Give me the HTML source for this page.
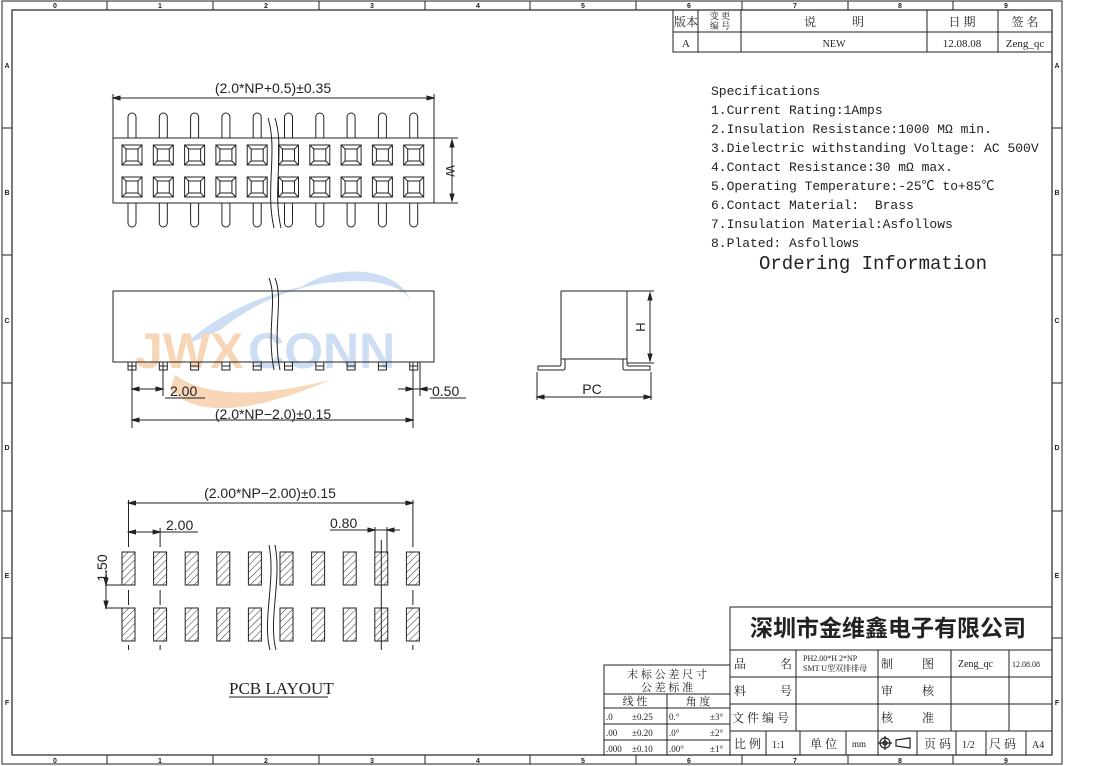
<!DOCTYPE html>
<html><head><meta charset="utf-8"><style>
html,body{margin:0;padding:0;background:#fff;}
svg{display:block;}
text{font-family:"Liberation Sans","Noto Sans CJK SC",sans-serif;fill:#222;white-space:pre;}
.s{font-family:"Liberation Serif","Noto Serif CJK SC","Noto Sans CJK SC",serif;}
.m{font-family:"Liberation Mono","Noto Sans CJK SC",monospace;}
</style></head><body>
<svg width="1100" height="766" viewBox="0 0 1100 766" xmlns="http://www.w3.org/2000/svg" xml:space="preserve">
<defs>
<pattern id="h" width="5" height="5" patternUnits="userSpaceOnUse" patternTransform="rotate(45)"><line x1="0" y1="0" x2="0" y2="5" stroke="#333" stroke-width="1"/></pattern>
<g id="tp" fill="none" stroke="#222" stroke-width="1">
<path d="M-4,138 V117 A4,4 0 0 1 4,117 V138"/>
<path d="M-4,203 V223 A4,4 0 0 0 4,223 V203"/>
<rect x="-10" y="145" width="20" height="20"/><rect x="-6" y="149" width="12" height="12"/>
<path d="M-10,145 L-6,149 M10,145 L6,149 M-10,165 L-6,161 M10,165 L6,161"/>
<rect x="-10" y="177" width="20" height="20"/><rect x="-6" y="181" width="12" height="12"/>
<path d="M-10,177 L-6,181 M10,177 L6,181 M-10,197 L-6,193 M10,197 L6,193"/>
</g>
<g id="sp" fill="none" stroke="#222" stroke-width="1"><rect x="-4" y="362" width="8" height="8"/><line x1="-4" y1="366" x2="4" y2="366"/></g>
<g id="pd" stroke="#222" stroke-width="1"><rect x="-6.5" y="552" width="13" height="33" fill="url(#h)"/><rect x="-6.5" y="608" width="13" height="33" fill="url(#h)"/></g>
</defs>
<rect width="1100" height="766" fill="#fff"/>
<rect x="2" y="1" width="1060" height="763" fill="none" stroke="#222" stroke-width="1"/>
<rect x="12" y="10" width="1040" height="745" fill="none" stroke="#222" stroke-width="1.2"/>
<g stroke="#222" stroke-width="1">
<path d="M107,1V10M213,1V10M319,1V10M425,1V10M530,1V10M636,1V10M742,1V10M848,1V10M953,1V10"/>
<path d="M107,755V764M213,755V764M319,755V764M425,755V764M530,755V764M636,755V764M742,755V764M848,755V764M953,755V764"/>
<path d="M2,128H12M2,255H12M2,383H12M2,511H12M2,638H12M1052,128H1062M1052,255H1062M1052,383H1062M1052,511H1062M1052,638H1062"/>
</g>
<g font-size="7" font-weight="bold" text-anchor="middle">
<text x="55" y="8">0</text><text x="160" y="8">1</text><text x="266" y="8">2</text><text x="372" y="8">3</text><text x="478" y="8">4</text><text x="583" y="8">5</text><text x="689" y="8">6</text><text x="795" y="8">7</text><text x="900" y="8">8</text><text x="1006" y="8">9</text>
<text x="55" y="763">0</text><text x="160" y="763">1</text><text x="266" y="763">2</text><text x="372" y="763">3</text><text x="478" y="763">4</text><text x="583" y="763">5</text><text x="689" y="763">6</text><text x="795" y="763">7</text><text x="900" y="763">8</text><text x="1006" y="763">9</text>
<text x="7" y="68">A</text><text x="7" y="195">B</text><text x="7" y="323">C</text><text x="7" y="450">D</text><text x="7" y="578">E</text><text x="7" y="705">F</text>
<text x="1057" y="68">A</text><text x="1057" y="195">B</text><text x="1057" y="323">C</text><text x="1057" y="450">D</text><text x="1057" y="578">E</text><text x="1057" y="705">F</text>
</g>
<g opacity="0.7">
<path d="M185,345 C230,300 320,270 400,285 C340,270 270,290 220,330Z" fill="#b9cfee"/>
<path d="M300,288 C340,260 400,270 410,300 C400,280 350,275 300,288Z" fill="#b9cfee"/>
<path d="M170,390 C200,420 260,410 330,380 C270,395 210,400 175,375Z" fill="#f5c59a"/>
<text x="135" y="368" font-size="50" font-weight="bold" style="fill:#f5c59a">JWX</text>
<text x="248" y="368" font-size="50" font-weight="bold" style="fill:#b9cfee">CONN</text>
</g>
<g fill="none" stroke="#222" stroke-width="1">
<rect x="673" y="10" width="379" height="42"/>
<path d="M673,32H1052M698,10V52M741,10V52M927,10V52M998,10V52"/>
</g>
<g font-size="12" class="s" text-anchor="middle">
<text x="686" y="26" class="s">版本</text>
<text x="720" y="19" font-size="9" class="s">变 更</text><text x="720" y="29" font-size="9" class="s">编 号</text>
<text x="834" y="26" class="s">说　　　明</text>
<text x="962" y="26" class="s">日 期</text><text x="1025" y="26" class="s">签 名</text>
<text x="686" y="47" font-size="11" class="s">A</text>
<text x="834" y="47" font-size="10" class="s">NEW</text>
<text x="962" y="47" font-size="11" class="s">12.08.08</text>
<text x="1025" y="47" font-size="11" class="s">Zeng_qc</text>
</g>
<g font-size="13" class="m">
<text x="711" y="95" class="m">Specifications</text>
<text x="711" y="114" class="m">1.Current Rating:1Amps</text>
<text x="711" y="133" class="m">2.Insulation Resistance:1000 MΩ min.</text>
<text x="711" y="152" class="m">3.Dielectric withstanding Voltage: AC 500V</text>
<text x="711" y="171" class="m">4.Contact Resistance:30 mΩ max.</text>
<text x="711" y="190" class="m">5.Operating Temperature:-25℃ to+85℃</text>
<text x="711" y="209" class="m">6.Contact Material:  Brass</text>
<text x="711" y="228" class="m">7.Insulation Material:Asfollows</text>
<text x="711" y="247" class="m">8.Plated: Asfollows</text>
<text x="759" y="269" font-size="19" class="m">Ordering Information</text>
</g>
<g fill="none" stroke="#222" stroke-width="1">
<rect x="113" y="138" width="321" height="65" fill="#fff"/>
<path d="M113,94V138M434,94V138M113,98H434M434,138H458M434,203H458M452,140V201"/>
<path d="M113,98l7,-2v4zM434,98l-7,-2v4z" fill="#222"/>
<path d="M452,140l-2,7h4zM452,201l-2,-7h4z" fill="#222"/>
</g>
<use href="#tp" x="132"/><use href="#tp" x="163.3"/><use href="#tp" x="194.6"/><use href="#tp" x="225.9"/><use href="#tp" x="257.2"/><use href="#tp" x="288.5"/><use href="#tp" x="319.8"/><use href="#tp" x="351.1"/><use href="#tp" x="382.4"/><use href="#tp" x="413.7"/>
<path d="M268,118 C278,150 265,190 274,228 M275,118 C285,150 272,190 281,228" fill="none" stroke="#222"/>
<text x="273" y="93" font-size="14" text-anchor="middle">(2.0*NP+0.5)±0.35</text>
<text x="0" y="0" font-size="12" transform="translate(446,171) rotate(90)" text-anchor="middle">W</text>
<g fill="none" stroke="#222" stroke-width="1">
<rect x="113" y="291" width="321" height="71"/>
<path d="M269,278 C278,300 266,330 274,370 M275,278 C284,300 272,330 280,370"/>
<path d="M132,362V428M163,362V396M413,362V428M420,362V396"/>
<path d="M132,389H163M132,420H413M398,389H420M420,389H432"/>
<path d="M132,389l7,-2v4zM163,389l-7,-2v4zM132,420l7,-2v4zM413,420l-7,-2v4zM413,389l-7,-2v4zM420,389l7,-2v4z" fill="#222"/>
<path d="M165,398H205M430,398H466"/>
</g>
<use href="#sp" x="132"/><use href="#sp" x="163.3"/><use href="#sp" x="194.6"/><use href="#sp" x="225.9"/><use href="#sp" x="257.2"/><use href="#sp" x="288.5"/><use href="#sp" x="319.8"/><use href="#sp" x="351.1"/><use href="#sp" x="382.4"/><use href="#sp" x="413.7"/>
<text x="170" y="396" font-size="14">2.00</text>
<text x="432" y="396" font-size="14">0.50</text>
<text x="273" y="419" font-size="14" text-anchor="middle">(2.0*NP−2.0)±0.15</text>
<g fill="none" stroke="#222" stroke-width="1">
<path d="M561,291H627V359M561,291V359"/>
<path d="M561,359H565V368Q565,370 563,370H538V366H559Q561,366 561,364Z"/>
<path d="M627,359H623V368Q623,370 625,370H650V366H629Q627,366 627,364Z"/>
<path d="M565,359H623"/>
<path d="M627,291H654M627,363H654M650,293V361M537,372V400M651,372V400M537,397H651"/>
<path d="M650,293l-2,7h4zM650,361l-2,-7h4zM537,397l7,-2v4zM651,397l-7,-2v4z" fill="#222"/>
</g>
<text x="0" y="0" font-size="13" transform="translate(636,327) rotate(90)" text-anchor="middle">H</text>
<text x="592" y="394" font-size="14" text-anchor="middle">PC</text>
<use href="#pd" x="128.5"/><use href="#pd" x="160.1"/><use href="#pd" x="191.7"/><use href="#pd" x="223.3"/><use href="#pd" x="254.9"/><use href="#pd" x="286.5"/><use href="#pd" x="318.1"/><use href="#pd" x="349.7"/><use href="#pd" x="381.3"/><use href="#pd" x="412.9"/>
<g fill="none" stroke="#222" stroke-width="1">
<path d="M269,545 C276,580 262,620 270,650 M275,545 C282,580 268,620 276,650"/>
<path d="M128.5,500V547M160.1,528V547M412.9,500V547M128.5,590V605M160.1,590V605M381.3,540V650M412.9,590V605M128.5,645V650M160.1,645V650M412.9,645V650"/>
<path d="M128.5,503H412.9M128.5,532H160.1M160.1,532H198M330,530H400M375,527V553M387,527V553"/>
<path d="M128.5,503l7,-2v4zM412.9,503l-7,-2v4zM128.5,532l7,-2v4zM160.1,532l-7,-2v4zM375,530l-7,-2v4zM387,530l7,-2v4z" fill="#222"/>
<path d="M105,585H122M105,608H122M106,570V608"/>
<path d="M106,585l-2,-7h4zM106,608l-2,-7h4z" fill="#222"/>
<path d="M229,697H328"/>
</g>
<text x="270" y="498" font-size="14" text-anchor="middle">(2.00*NP−2.00)±0.15</text>
<text x="166" y="530" font-size="14">2.00</text>
<text x="330" y="528" font-size="14">0.80</text>
<text x="0" y="0" font-size="14" transform="translate(107,568) rotate(-90)" text-anchor="middle">1.50</text>
<text x="229" y="694" font-size="17" class="s">PCB LAYOUT</text>
<g fill="none" stroke="#222" stroke-width="1">
<rect x="730" y="607" width="322" height="148"/>
<path d="M730,650H1052M730,677H1052M730,704H1052M730,731H1052"/>
<path d="M796,650V731M878,650V755M951,650V731M1009,650V731"/>
<path d="M766,731V755M800,731V755M846,731V755M917,731V755M956,731V755M986,731V755M1026,731V755"/>
<rect x="604" y="665" width="126" height="90"/>
<path d="M604,694H730M604,708H730M604,724H730M604,740H730M667,694V755"/>
</g>
<text x="888" y="636" font-size="23" font-weight="bold" text-anchor="middle">深圳市金维鑫电子有限公司</text>
<g font-size="12" class="s">
<text x="734" y="668" class="s">品</text><text x="780" y="668" class="s">名</text>
<text x="803" y="661" font-size="8" class="s">PH2.00*H 2*NP</text>
<text x="803" y="671" font-size="8" class="s">SMT U型双排排母</text>
<text x="881" y="668" class="s">制</text><text x="922" y="668" class="s">图</text>
<text x="958" y="667" font-size="10" class="s">Zeng_qc</text>
<text x="1012" y="667" font-size="8" class="s">12.08.08</text>
<text x="734" y="695" class="s">料</text><text x="780" y="695" class="s">号</text>
<text x="881" y="695" class="s">审</text><text x="922" y="695" class="s">核</text>
<text x="732" y="722" class="s">文 件 编 号</text>
<text x="881" y="722" class="s">核</text><text x="922" y="722" class="s">准</text>
<text x="734" y="748" class="s">比 例</text><text x="772" y="748" font-size="10" class="s">1:1</text>
<text x="810" y="748" class="s">单 位</text><text x="852" y="747" font-size="9" class="s">mm</text>
<text x="924" y="748" class="s">页 码</text><text x="962" y="748" font-size="10" class="s">1/2</text>
<text x="989" y="748" class="s">尺 码</text><text x="1032" y="748" font-size="10" class="s">A4</text>
</g>
<g fill="none" stroke="#222" stroke-width="1.2">
<circle cx="885" cy="743" r="5"/><circle cx="885" cy="743" r="2"/><path d="M878,743H892M885,736V750M896,740L910,738V748L896,746Z"/>
</g>
<g font-size="11" class="s">
<text x="667" y="678" text-anchor="middle" class="s">末 标 公 差 尺 寸</text>
<text x="667" y="691" text-anchor="middle" class="s">公 差 标 准</text>
<text x="635" y="705" text-anchor="middle" class="s">线 性</text>
<text x="698" y="705" text-anchor="middle" class="s">角 度</text>
<text x="606" y="720" font-size="9" class="s">.0</text><text x="632" y="720" font-size="9" class="s">±0.25</text>
<text x="669" y="720" font-size="9" class="s">0.°</text><text x="710" y="720" font-size="9" class="s">±3°</text>
<text x="606" y="736" font-size="9" class="s">.00</text><text x="632" y="736" font-size="9" class="s">±0.20</text>
<text x="669" y="736" font-size="9" class="s">.0°</text><text x="710" y="736" font-size="9" class="s">±2°</text>
<text x="606" y="752" font-size="9" class="s">.000</text><text x="632" y="752" font-size="9" class="s">±0.10</text>
<text x="669" y="752" font-size="9" class="s">.00°</text><text x="710" y="752" font-size="9" class="s">±1°</text>
</g>
</svg>
</body></html>
